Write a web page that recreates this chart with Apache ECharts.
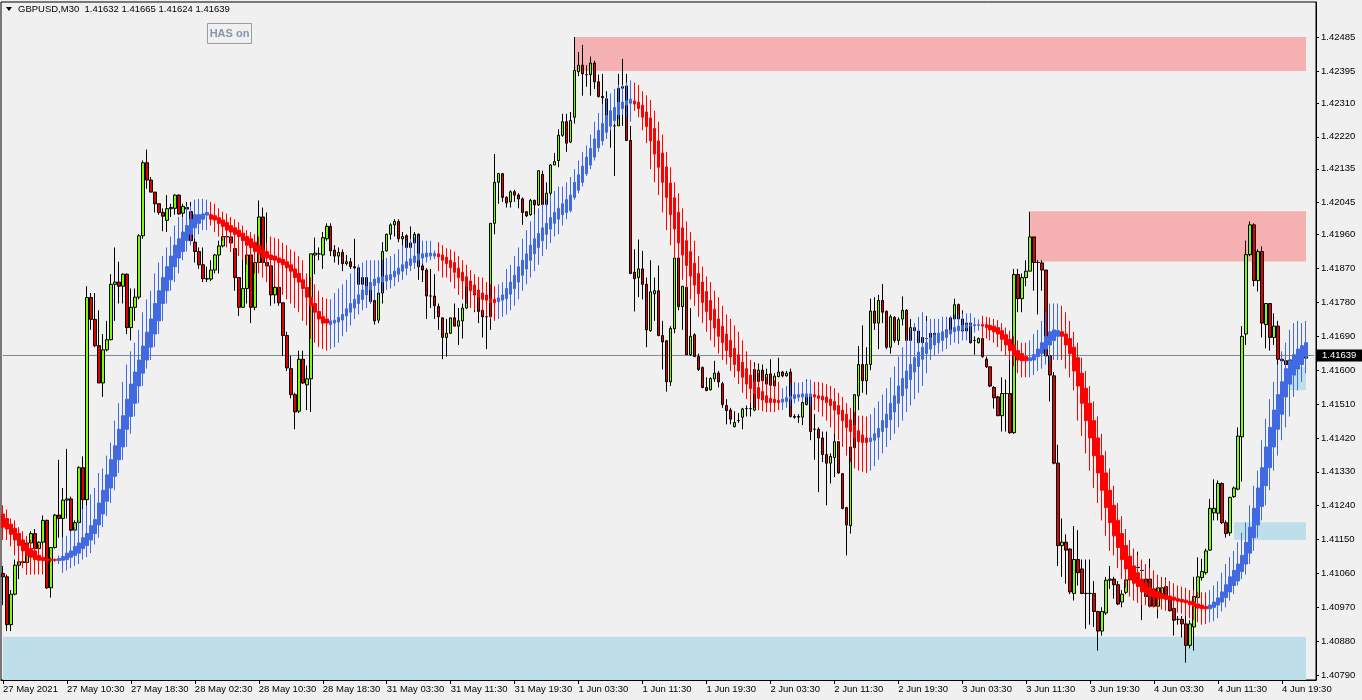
<!DOCTYPE html>
<html><head><meta charset="utf-8">
<script src="https://cdn.jsdelivr.net/npm/echarts@6/dist/echarts.min.js"></script>
<style>html,body{margin:0;padding:0;background:#f0f0f0;}#c{width:1362px;height:700px;}</style>
</head><body><div id="c"></div>
<script>
const symbolName = 'GBPUSD,M30';
const lastQuote = ['1.41632', '1.41665', '1.41624', '1.41639'];
const currentPrice = 1.41639;
const timeLabels = ['27 May 2021','27 May 10:30','27 May 18:30','28 May 02:30','28 May 10:30','28 May 18:30','31 May 03:30','31 May 11:30','31 May 19:30','1 Jun 03:30','1 Jun 11:30','1 Jun 19:30','2 Jun 03:30','2 Jun 11:30','2 Jun 19:30','3 Jun 03:30','3 Jun 11:30','3 Jun 19:30','4 Jun 03:30','4 Jun 11:30','4 Jun 19:30'];
const priceTicks = [1.42485,1.42395,1.42310,1.42220,1.42135,1.42045,1.41960,1.41870,1.41780,1.41690,1.41600,1.41510,1.41420,1.41330,1.41240,1.41150,1.41060,1.40970,1.40880,1.40790];
// zones: [fromBar, toBar, upperPrice, lowerPrice]
const supplyZones = [[143,326,1.42485,1.42395],[257,326,1.42022,1.41889]];
const demandZones = [[0,326,1.40892,1.40777],[308,326,1.41196,1.41149],[322,326,1.41609,1.41547]];

const barOpen = [
1.41060,1.41051,1.40924,1.41005,1.41082,1.41091,1.41089,1.41141,1.41166,1.41126,
1.41143,1.41201,1.41022,1.41129,1.41215,1.41206,1.41255,1.41258,1.41175,1.41195,
1.41341,1.41256,1.41793,1.41735,1.41665,1.41566,1.41654,1.41681,1.41828,1.41834,
1.41823,1.41855,1.41713,1.41767,1.41794,1.41957,1.42151,1.42105,1.42073,1.42042,
1.42019,1.41998,1.42029,1.42030,1.42065,1.42017,1.42032,1.42021,1.41940,1.41915,
1.41880,1.41843,1.41842,1.41866,1.41906,1.41930,1.41955,1.41954,1.41923,1.41846,
1.41767,1.41817,1.41906,1.41767,1.41886,1.42007,1.41886,1.41877,1.41800,1.41820,
1.41779,1.41692,1.41604,1.41535,1.41491,1.41629,1.41561,1.41577,1.41906,1.41909,
1.41906,1.41949,1.41982,1.41919,1.41903,1.41913,1.41883,1.41888,1.41875,1.41872,
1.41828,1.41846,1.41832,1.41785,1.41733,1.41805,1.41917,1.41961,1.41986,1.41995,
1.41949,1.41957,1.41926,1.41938,1.41961,1.41877,1.41866,1.41797,1.41797,1.41769,
1.41739,1.41687,1.41698,1.41739,1.41717,1.41731,1.41765,1.41834,1.41817,1.41800,
1.41759,1.41742,1.41742,1.41990,1.42099,1.42122,1.42059,1.42047,1.42074,1.42065,
1.42055,1.42021,1.42013,1.42051,1.42039,1.42120,1.42040,1.42070,1.42145,1.42157,
1.42224,1.42260,1.42206,1.42272,1.42393,1.42410,1.42385,1.42385,1.42416,1.42366,
1.42327,1.42321,1.42277,1.42249,1.42249,1.42349,1.42355,1.42210,1.41860,1.41846,
1.41869,1.41828,1.41705,1.41803,1.41811,1.41692,1.41678,1.41569,1.41710,1.41898,
1.41769,1.41820,1.41641,1.41694,1.41636,1.41607,1.41554,1.41548,1.41577,1.41592,
1.41564,1.41506,1.41494,1.41450,1.41466,1.41475,1.41498,1.41498,1.41494,1.41570,
1.41600,1.41563,1.41590,1.41558,1.41583,1.41595,1.41585,1.41595,1.41477,1.41475,
1.41475,1.41509,1.41532,1.41443,1.41443,1.41420,1.41376,1.41353,1.41368,1.41410,
1.41325,1.41235,1.41187,1.41394,1.41532,1.41615,1.41572,1.41615,1.41757,1.41725,
1.41785,1.41756,1.41661,1.41740,1.41679,1.41736,1.41759,1.41679,1.41713,1.41704,
1.41673,1.41684,1.41687,1.41698,1.41690,1.41696,1.41690,1.41707,1.41736,1.41774,
1.41736,1.41704,1.41725,1.41679,1.41673,1.41684,1.41629,1.41609,1.41554,1.41529,
1.41479,1.41538,1.41538,1.41434,1.41854,1.41790,1.41846,1.41863,1.41954,1.41886,
1.41885,1.41866,1.41638,1.41585,1.41353,1.41134,1.41143,1.41125,1.41007,1.41097,
1.41072,1.41007,1.41007,1.41007,1.40959,1.40907,1.40955,1.41042,1.41045,1.41030,
1.40984,1.41010,1.41043,1.41076,1.41076,1.41068,1.41045,1.41045,1.41019,1.40973,
1.41005,1.41025,1.40996,1.40967,1.40938,1.40938,1.40926,1.40869,1.40918,1.40996,
1.41049,1.41062,1.41122,1.41221,1.41220,1.41299,1.41195,1.41168,1.41264,1.41284,
1.41423,1.41696,1.41907,1.41986,1.41838,1.41915,1.41721,1.41777,1.41687,1.41717,
1.41629,1.41625,1.41615,1.41618,1.41604,1.41635,1.41632];
const barClose = [
1.41051,1.40924,1.41005,1.41082,1.41091,1.41089,1.41141,1.41166,1.41126,1.41143,
1.41201,1.41022,1.41129,1.41215,1.41206,1.41255,1.41258,1.41175,1.41195,1.41341,
1.41256,1.41793,1.41735,1.41665,1.41566,1.41654,1.41681,1.41828,1.41834,1.41823,
1.41855,1.41713,1.41767,1.41794,1.41957,1.42151,1.42105,1.42073,1.42042,1.42019,
1.42009,1.42029,1.42032,1.42065,1.42015,1.42035,1.42028,1.41944,1.41915,1.41880,
1.41843,1.41842,1.41866,1.41906,1.41930,1.41955,1.41954,1.41938,1.41846,1.41767,
1.41817,1.41906,1.41767,1.41886,1.42007,1.41886,1.41877,1.41800,1.41820,1.41779,
1.41692,1.41606,1.41535,1.41489,1.41629,1.41566,1.41577,1.41909,1.41911,1.41909,
1.41952,1.41982,1.41917,1.41903,1.41913,1.41883,1.41888,1.41875,1.41872,1.41828,
1.41846,1.41820,1.41782,1.41731,1.41805,1.41915,1.41961,1.41986,1.41995,1.41949,
1.41955,1.41926,1.41938,1.41961,1.41875,1.41866,1.41797,1.41797,1.41771,1.41742,
1.41687,1.41698,1.41739,1.41717,1.41731,1.41765,1.41834,1.41817,1.41800,1.41756,
1.41742,1.41742,1.41990,1.42099,1.42122,1.42059,1.42044,1.42074,1.42065,1.42055,
1.42019,1.42010,1.42051,1.42039,1.42130,1.42040,1.42070,1.42145,1.42154,1.42224,
1.42260,1.42203,1.42263,1.42396,1.42410,1.42387,1.42385,1.42416,1.42366,1.42327,
1.42324,1.42277,1.42249,1.42249,1.42349,1.42353,1.42210,1.41857,1.41843,1.41869,
1.41828,1.41707,1.41808,1.41811,1.41692,1.41675,1.41569,1.41711,1.41898,1.41769,
1.41823,1.41641,1.41690,1.41636,1.41602,1.41554,1.41546,1.41578,1.41592,1.41569,
1.41509,1.41493,1.41470,1.41461,1.41466,1.41497,1.41498,1.41498,1.41602,1.41600,
1.41572,1.41589,1.41560,1.41584,1.41595,1.41585,1.41592,1.41477,1.41475,1.41477,
1.41514,1.41535,1.41437,1.41443,1.41420,1.41376,1.41353,1.41371,1.41410,1.41327,
1.41233,1.41189,1.41396,1.41535,1.41615,1.41572,1.41615,1.41757,1.41725,1.41785,
1.41754,1.41661,1.41742,1.41679,1.41734,1.41759,1.41679,1.41713,1.41705,1.41673,
1.41687,1.41684,1.41698,1.41690,1.41696,1.41690,1.41707,1.41739,1.41774,1.41736,
1.41704,1.41725,1.41673,1.41679,1.41684,1.41636,1.41609,1.41558,1.41527,1.41479,
1.41538,1.41538,1.41434,1.41854,1.41790,1.41846,1.41863,1.41954,1.41886,1.41886,
1.41866,1.41638,1.41587,1.41353,1.41134,1.41143,1.41122,1.41011,1.41097,1.41062,
1.41007,1.41007,1.41007,1.40959,1.40907,1.40959,1.41042,1.41045,1.41030,1.40979,
1.41005,1.41043,1.41074,1.41076,1.41076,1.41068,1.40999,1.40973,1.40973,1.41022,
1.41022,1.40996,1.40961,1.40936,1.40938,1.40926,1.40869,1.40926,1.40999,1.41051,
1.41065,1.41120,1.41233,1.41233,1.41299,1.41195,1.41166,1.41262,1.41287,1.41425,
1.41690,1.41907,1.41986,1.41838,1.41915,1.41725,1.41777,1.41687,1.41717,1.41629,
1.41625,1.41615,1.41627,1.41604,1.41635,1.41633,1.41639];
const barLow = [
1.40976,1.40907,1.40907,1.41002,1.41045,1.41085,1.41057,1.41120,1.41062,1.41120,
1.41126,1.41019,1.40996,1.41126,1.41155,1.41155,1.41206,1.41155,1.41172,1.41191,
1.41230,1.41230,1.41707,1.41661,1.41566,1.41529,1.41650,1.41679,1.41731,1.41777,
1.41777,1.41696,1.41679,1.41731,1.41788,1.41949,1.42082,1.42073,1.42019,1.42013,
1.41969,1.41967,1.42007,1.42013,1.42013,1.42007,1.42013,1.41932,1.41886,1.41869,
1.41834,1.41834,1.41837,1.41857,1.41857,1.41926,1.41938,1.41915,1.41811,1.41744,
1.41767,1.41777,1.41725,1.41759,1.41886,1.41875,1.41846,1.41771,1.41777,1.41771,
1.41638,1.41598,1.41525,1.41443,1.41486,1.41563,1.41494,1.41489,1.41855,1.41892,
1.41869,1.41944,1.41903,1.41886,1.41880,1.41863,1.41878,1.41869,1.41846,1.41788,
1.41800,1.41817,1.41777,1.41721,1.41725,1.41777,1.41915,1.41947,1.41955,1.41940,
1.41926,1.41921,1.41924,1.41932,1.41840,1.41834,1.41736,1.41765,1.41736,1.41707,
1.41629,1.41636,1.41696,1.41717,1.41667,1.41684,1.41763,1.41777,1.41754,1.41725,
1.41687,1.41656,1.41707,1.41961,1.42042,1.42047,1.42032,1.42032,1.42047,1.42030,
1.41986,1.42007,1.42010,1.42013,1.42036,1.42039,1.42036,1.42042,1.42145,1.42139,
1.42220,1.42180,1.42203,1.42255,1.42381,1.42329,1.42353,1.42329,1.42347,1.42324,
1.42283,1.42237,1.42191,1.42116,1.42249,1.42249,1.42209,1.41855,1.41756,1.41794,
1.41788,1.41661,1.41702,1.41731,1.41690,1.41602,1.41543,1.41558,1.41698,1.41759,
1.41707,1.41641,1.41638,1.41636,1.41598,1.41552,1.41544,1.41546,1.41569,1.41554,
1.41500,1.41456,1.41456,1.41448,1.41460,1.41443,1.41477,1.41477,1.41491,1.41494,
1.41506,1.41506,1.41512,1.41552,1.41581,1.41581,1.41583,1.41474,1.41471,1.41460,
1.41454,1.41506,1.41414,1.41362,1.41276,1.41356,1.41241,1.41299,1.41316,1.41325,
1.41230,1.41108,1.41166,1.41394,1.41494,1.41540,1.41535,1.41600,1.41707,1.41656,
1.41725,1.41656,1.41644,1.41673,1.41667,1.41719,1.41673,1.41673,1.41684,1.41661,
1.41667,1.41650,1.41661,1.41673,1.41673,1.41679,1.41684,1.41702,1.41733,1.41671,
1.41702,1.41698,1.41671,1.41641,1.41671,1.41633,1.41606,1.41555,1.41498,1.41479,
1.41437,1.41437,1.41431,1.41431,1.41754,1.41754,1.41823,1.41863,1.41811,1.41748,
1.41811,1.41638,1.41517,1.41350,1.41080,1.41051,1.41033,1.41005,1.40988,1.41028,
1.41005,1.40913,1.40924,1.40918,1.40855,1.40895,1.40950,1.41019,1.40993,1.40976,
1.40970,1.41005,1.41016,1.41010,1.41051,1.40936,1.40976,1.40970,1.40970,1.40941,
1.40999,1.40993,1.40959,1.40895,1.40924,1.40890,1.40823,1.40861,1.40855,1.40993,
1.41041,1.41057,1.41120,1.41201,1.41201,1.41191,1.41155,1.41160,1.41261,1.41281,
1.41304,1.41667,1.41903,1.41823,1.41809,1.41687,1.41658,1.41652,1.41667,1.41613,
1.41610,1.41602,1.41595,1.41602,1.41602,1.41627,1.41624];
const barHigh = [
1.41080,1.41057,1.41016,1.41097,1.41097,1.41097,1.41155,1.41172,1.41178,1.41145,
1.41214,1.41203,1.41129,1.41218,1.41362,1.41287,1.41391,1.41264,1.41201,1.41345,
1.41371,1.41823,1.41805,1.41805,1.41759,1.41696,1.41731,1.41855,1.41926,1.41888,
1.41857,1.41857,1.41817,1.41817,1.41961,1.42157,1.42186,1.42113,1.42073,1.42042,
1.42030,1.42065,1.42042,1.42067,1.42067,1.42042,1.42047,1.42047,1.41952,1.41926,
1.41926,1.41875,1.41892,1.41909,1.41944,1.41961,1.41961,1.41955,1.41923,1.41846,
1.41906,1.41906,1.41906,1.41903,1.42051,1.42032,1.42019,1.41877,1.41840,1.41828,
1.41779,1.41702,1.41638,1.41540,1.41652,1.41652,1.41612,1.41909,1.41952,1.41926,
1.41967,1.41990,1.41990,1.41932,1.41926,1.41921,1.41906,1.41898,1.41949,1.41880,
1.41860,1.41854,1.41840,1.41788,1.41817,1.41940,1.41963,1.41990,1.42001,1.42001,
1.41967,1.41961,1.41982,1.41967,1.41963,1.41892,1.41871,1.41869,1.41855,1.41777,
1.41739,1.41736,1.41739,1.41777,1.41765,1.41777,1.41857,1.41846,1.41834,1.41834,
1.41800,1.41742,1.41990,1.42174,1.42124,1.42124,1.42062,1.42078,1.42079,1.42070,
1.42059,1.42021,1.42055,1.42053,1.42130,1.42130,1.42099,1.42148,1.42177,1.42240,
1.42281,1.42281,1.42286,1.42485,1.42445,1.42464,1.42410,1.42433,1.42422,1.42385,
1.42387,1.42341,1.42324,1.42255,1.42387,1.42427,1.42387,1.42249,1.41921,1.41947,
1.41917,1.41846,1.41892,1.41846,1.41878,1.41731,1.41679,1.41717,1.41898,1.41898,
1.41823,1.41820,1.41765,1.41698,1.41644,1.41610,1.41581,1.41581,1.41625,1.41598,
1.41569,1.41523,1.41500,1.41491,1.41486,1.41500,1.41506,1.41535,1.41621,1.41618,
1.41615,1.41604,1.41629,1.41592,1.41633,1.41598,1.41598,1.41604,1.41483,1.41483,
1.41517,1.41575,1.41535,1.41483,1.41448,1.41437,1.41437,1.41379,1.41448,1.41410,
1.41327,1.41237,1.41396,1.41535,1.41664,1.41719,1.41661,1.41790,1.41794,1.41800,
1.41829,1.41759,1.41748,1.41744,1.41740,1.41796,1.41762,1.41736,1.41717,1.41717,
1.41690,1.41744,1.41707,1.41702,1.41702,1.41702,1.41713,1.41744,1.41790,1.41777,
1.41759,1.41731,1.41725,1.41690,1.41687,1.41687,1.41636,1.41609,1.41558,1.41532,
1.41581,1.41575,1.41627,1.41869,1.41869,1.41857,1.41892,1.42021,1.41954,1.41892,
1.41892,1.41866,1.41638,1.41595,1.41402,1.41206,1.41164,1.41126,1.41186,1.41175,
1.41097,1.41097,1.41097,1.41040,1.40961,1.40970,1.41051,1.41080,1.41051,1.41040,
1.41016,1.41074,1.41097,1.41097,1.41118,1.41074,1.41045,1.41099,1.41045,1.41051,
1.41033,1.41049,1.40996,1.40970,1.40947,1.40947,1.40947,1.40936,1.41051,1.41103,
1.41099,1.41126,1.41258,1.41310,1.41307,1.41302,1.41201,1.41264,1.41291,1.41448,
1.41717,1.41944,1.41995,1.41990,1.41921,1.41929,1.41777,1.41777,1.41751,1.41731,
1.41644,1.41629,1.41629,1.41629,1.41648,1.41644,1.41665];

const hasOpen = [
1.41218,1.41206,1.41191,1.41180,1.41166,1.41149,1.41137,1.41126,1.41120,1.41108,
1.41103,1.41099,1.41098,1.41097,1.41094,1.41095,1.41097,1.41103,1.41108,1.41114,
1.41126,1.41134,1.41149,1.41166,1.41189,1.41218,1.41252,1.41287,1.41318,1.41362,
1.41396,1.41443,1.41477,1.41512,1.41558,1.41592,1.41627,1.41661,1.41696,1.41731,
1.41777,1.41811,1.41840,1.41875,1.41898,1.41915,1.41944,1.41961,1.41978,1.41990,
1.42001,1.42012,1.42013,1.42010,1.42005,1.41999,1.41992,1.41984,1.41978,1.41972,
1.41964,1.41955,1.41949,1.41940,1.41932,1.41921,1.41915,1.41906,1.41903,1.41898,
1.41894,1.41888,1.41880,1.41869,1.41857,1.41840,1.41820,1.41794,1.41777,1.41756,
1.41742,1.41736,1.41721,1.41725,1.41728,1.41733,1.41744,1.41754,1.41765,1.41777,
1.41788,1.41800,1.41813,1.41825,1.41832,1.41834,1.41837,1.41840,1.41848,1.41855,
1.41863,1.41871,1.41878,1.41886,1.41892,1.41898,1.41901,1.41903,1.41903,1.41909,
1.41906,1.41900,1.41892,1.41886,1.41871,1.41860,1.41848,1.41837,1.41826,1.41813,
1.41805,1.41800,1.41790,1.41788,1.41782,1.41786,1.41790,1.41802,1.41817,1.41834,
1.41852,1.41869,1.41892,1.41909,1.41926,1.41944,1.41961,1.41975,1.41990,1.42001,
1.42013,1.42019,1.42024,1.42059,1.42078,1.42099,1.42122,1.42145,1.42166,1.42191,
1.42209,1.42232,1.42249,1.42263,1.42278,1.42295,1.42304,1.42309,1.42315,1.42312,
1.42304,1.42286,1.42270,1.42242,1.42209,1.42177,1.42140,1.42097,1.42058,1.42019,
1.41978,1.41944,1.41915,1.41884,1.41857,1.41834,1.41809,1.41785,1.41762,1.41736,
1.41717,1.41696,1.41679,1.41658,1.41641,1.41621,1.41604,1.41587,1.41569,1.41554,
1.41543,1.41532,1.41525,1.41523,1.41520,1.41515,1.41517,1.41523,1.41525,1.41528,
1.41529,1.41529,1.41530,1.41535,1.41532,1.41531,1.41529,1.41523,1.41517,1.41506,
1.41494,1.41483,1.41468,1.41454,1.41439,1.41428,1.41420,1.41410,1.41414,1.41422,
1.41437,1.41448,1.41468,1.41489,1.41512,1.41532,1.41552,1.41575,1.41595,1.41610,
1.41629,1.41644,1.41656,1.41667,1.41673,1.41679,1.41687,1.41696,1.41702,1.41705,
1.41707,1.41712,1.41717,1.41718,1.41719,1.41721,1.41721,1.41719,1.41717,1.41713,
1.41705,1.41694,1.41682,1.41667,1.41652,1.41644,1.41636,1.41625,1.41627,1.41636,
1.41644,1.41656,1.41667,1.41679,1.41690,1.41702,1.41696,1.41684,1.41661,1.41633,
1.41592,1.41552,1.41512,1.41466,1.41420,1.41373,1.41327,1.41281,1.41241,1.41201,
1.41166,1.41134,1.41106,1.41080,1.41062,1.41045,1.41034,1.41022,1.41016,1.41011,
1.41007,1.41002,1.41000,1.40997,1.40993,1.40991,1.40989,1.40986,1.40984,1.40979,
1.40976,1.40972,1.40966,1.40970,1.40976,1.40984,1.40996,1.41011,1.41028,1.41040,
1.41065,1.41085,1.41114,1.41155,1.41189,1.41238,1.41293,1.41341,1.41396,1.41443,
1.41483,1.41529,1.41563,1.41587,1.41604,1.41615,1.41636];
const hasClose = [
1.41183,1.41178,1.41164,1.41149,1.41134,1.41120,1.41108,1.41103,1.41097,1.41095,
1.41094,1.41094,1.41095,1.41095,1.41100,1.41105,1.41114,1.41120,1.41132,1.41141,
1.41155,1.41166,1.41187,1.41203,1.41247,1.41281,1.41322,1.41362,1.41399,1.41443,
1.41479,1.41523,1.41563,1.41595,1.41627,1.41664,1.41701,1.41736,1.41777,1.41811,
1.41846,1.41875,1.41903,1.41932,1.41949,1.41967,1.41984,1.42001,1.42013,1.42013,
1.42015,1.42019,1.42001,1.41999,1.41990,1.41982,1.41972,1.41967,1.41961,1.41955,
1.41944,1.41932,1.41926,1.41915,1.41909,1.41898,1.41898,1.41894,1.41892,1.41886,
1.41880,1.41872,1.41863,1.41846,1.41834,1.41817,1.41794,1.41771,1.41754,1.41736,
1.41725,1.41725,1.41731,1.41733,1.41740,1.41748,1.41763,1.41777,1.41788,1.41800,
1.41813,1.41823,1.41832,1.41842,1.41846,1.41848,1.41852,1.41854,1.41863,1.41871,
1.41880,1.41888,1.41896,1.41903,1.41909,1.41909,1.41911,1.41911,1.41910,1.41901,
1.41892,1.41883,1.41872,1.41860,1.41846,1.41837,1.41823,1.41811,1.41803,1.41794,
1.41788,1.41786,1.41779,1.41779,1.41792,1.41800,1.41817,1.41834,1.41852,1.41875,
1.41892,1.41909,1.41932,1.41949,1.41963,1.41978,1.41990,1.42005,1.42019,1.42030,
1.42042,1.42053,1.42065,1.42099,1.42119,1.42142,1.42166,1.42189,1.42214,1.42237,
1.42255,1.42275,1.42289,1.42298,1.42312,1.42312,1.42316,1.42320,1.42307,1.42295,
1.42272,1.42247,1.42209,1.42174,1.42139,1.42099,1.42059,1.42013,1.41975,1.41938,
1.41906,1.41878,1.41850,1.41826,1.41803,1.41780,1.41756,1.41733,1.41712,1.41690,
1.41673,1.41652,1.41635,1.41615,1.41598,1.41581,1.41563,1.41551,1.41537,1.41525,
1.41521,1.41514,1.41514,1.41514,1.41514,1.41523,1.41527,1.41530,1.41535,1.41535,
1.41537,1.41537,1.41537,1.41529,1.41525,1.41521,1.41514,1.41506,1.41494,1.41483,
1.41466,1.41448,1.41437,1.41420,1.41410,1.41408,1.41408,1.41420,1.41431,1.41445,
1.41466,1.41483,1.41512,1.41532,1.41558,1.41578,1.41598,1.41615,1.41633,1.41648,
1.41661,1.41673,1.41684,1.41694,1.41698,1.41702,1.41705,1.41707,1.41713,1.41717,
1.41719,1.41721,1.41721,1.41721,1.41721,1.41717,1.41713,1.41707,1.41702,1.41696,
1.41682,1.41667,1.41652,1.41638,1.41627,1.41625,1.41625,1.41633,1.41641,1.41656,
1.41673,1.41690,1.41702,1.41707,1.41705,1.41690,1.41667,1.41644,1.41598,1.41558,
1.41512,1.41466,1.41420,1.41373,1.41327,1.41281,1.41235,1.41195,1.41160,1.41129,
1.41097,1.41072,1.41045,1.41034,1.41025,1.41011,1.41007,1.40999,1.40996,1.40993,
1.40993,1.40991,1.40990,1.40989,1.40986,1.40984,1.40982,1.40977,1.40972,1.40968,
1.40966,1.40966,1.40976,1.40984,1.40995,1.41011,1.41030,1.41051,1.41068,1.41085,
1.41108,1.41143,1.41183,1.41233,1.41287,1.41341,1.41396,1.41448,1.41494,1.41535,
1.41569,1.41604,1.41625,1.41641,1.41656,1.41665,1.41673];
const hasLow = [
1.41149,1.41149,1.41132,1.41108,1.41085,1.41074,1.41057,1.41057,1.41057,1.41057,
1.41057,1.41089,1.41090,1.41091,1.41085,1.41062,1.41068,1.41074,1.41080,1.41085,
1.41097,1.41103,1.41114,1.41137,1.41155,1.41183,1.41212,1.41247,1.41281,1.41327,
1.41362,1.41396,1.41431,1.41477,1.41512,1.41558,1.41604,1.41627,1.41661,1.41696,
1.41731,1.41777,1.41811,1.41834,1.41857,1.41892,1.41915,1.41932,1.41949,1.41961,
1.41972,1.41972,1.41984,1.41967,1.41955,1.41944,1.41926,1.41915,1.41915,1.41903,
1.41892,1.41880,1.41869,1.41857,1.41857,1.41846,1.41834,1.41823,1.41823,1.41811,
1.41800,1.41788,1.41777,1.41765,1.41754,1.41731,1.41719,1.41684,1.41673,1.41661,
1.41656,1.41652,1.41656,1.41661,1.41673,1.41690,1.41702,1.41719,1.41736,1.41748,
1.41759,1.41765,1.41777,1.41788,1.41800,1.41809,1.41813,1.41817,1.41823,1.41834,
1.41840,1.41852,1.41863,1.41869,1.41875,1.41883,1.41886,1.41892,1.41895,1.41863,
1.41846,1.41846,1.41834,1.41817,1.41800,1.41788,1.41777,1.41765,1.41759,1.41756,
1.41748,1.41742,1.41736,1.41731,1.41736,1.41742,1.41748,1.41759,1.41771,1.41788,
1.41811,1.41828,1.41846,1.41863,1.41880,1.41903,1.41921,1.41938,1.41955,1.41961,
1.41984,1.42001,1.42019,1.42053,1.42070,1.42088,1.42116,1.42134,1.42157,1.42180,
1.42197,1.42214,1.42237,1.42255,1.42266,1.42278,1.42272,1.42260,1.42289,1.42272,
1.42237,1.42203,1.42134,1.42099,1.42065,1.42019,1.41972,1.41932,1.41898,1.41869,
1.41840,1.41817,1.41788,1.41771,1.41742,1.41725,1.41702,1.41679,1.41661,1.41644,
1.41627,1.41615,1.41598,1.41581,1.41563,1.41540,1.41523,1.41512,1.41500,1.41494,
1.41491,1.41489,1.41489,1.41489,1.41494,1.41494,1.41500,1.41506,1.41512,1.41517,
1.41517,1.41512,1.41506,1.41494,1.41489,1.41477,1.41466,1.41448,1.41431,1.41414,
1.41396,1.41373,1.41356,1.41339,1.41333,1.41330,1.41327,1.41333,1.41345,1.41362,
1.41379,1.41396,1.41414,1.41431,1.41448,1.41466,1.41489,1.41506,1.41523,1.41540,
1.41558,1.41592,1.41627,1.41638,1.41644,1.41650,1.41656,1.41667,1.41673,1.41673,
1.41679,1.41679,1.41679,1.41700,1.41705,1.41684,1.41684,1.41679,1.41673,1.41661,
1.41650,1.41638,1.41627,1.41610,1.41592,1.41581,1.41581,1.41581,1.41587,1.41598,
1.41604,1.41615,1.41621,1.41627,1.41627,1.41627,1.41604,1.41581,1.41546,1.41466,
1.41425,1.41379,1.41333,1.41287,1.41247,1.41201,1.41160,1.41120,1.41108,1.41074,
1.41045,1.41022,1.40999,1.40988,1.40982,1.40976,1.40976,1.40970,1.40970,1.40964,
1.40964,1.40961,1.40961,1.40959,1.40956,1.40953,1.40947,1.40941,1.40936,1.40930,
1.40924,1.40926,1.40930,1.40933,1.40941,1.40959,1.40970,1.40988,1.41005,1.41028,
1.41045,1.41057,1.41085,1.41120,1.41155,1.41201,1.41241,1.41281,1.41333,1.41373,
1.41414,1.41448,1.41477,1.41529,1.41546,1.41569,1.41592];
const hasHigh = [
1.41241,1.41230,1.41206,1.41201,1.41183,1.41172,1.41160,1.41149,1.41143,1.41137,
1.41137,1.41103,1.41102,1.41100,1.41108,1.41155,1.41160,1.41172,1.41183,1.41201,
1.41230,1.41241,1.41270,1.41287,1.41327,1.41339,1.41373,1.41408,1.41466,1.41512,
1.41569,1.41615,1.41650,1.41673,1.41707,1.41754,1.41788,1.41811,1.41857,1.41886,
1.41903,1.41926,1.41955,1.41984,1.42007,1.42007,1.42036,1.42036,1.42053,1.42055,
1.42055,1.42053,1.42047,1.42042,1.42030,1.42021,1.42016,1.42007,1.42001,1.41993,
1.41984,1.41972,1.41967,1.41961,1.41955,1.41947,1.41938,1.41955,1.41952,1.41949,
1.41938,1.41932,1.41921,1.41915,1.41903,1.41892,1.41857,1.41846,1.41828,1.41811,
1.41794,1.41790,1.41788,1.41805,1.41817,1.41828,1.41840,1.41857,1.41869,1.41880,
1.41886,1.41892,1.41892,1.41892,1.41892,1.41894,1.41898,1.41903,1.41909,1.41921,
1.41932,1.41944,1.41949,1.41952,1.41955,1.41944,1.41944,1.41944,1.41918,1.41940,
1.41932,1.41924,1.41921,1.41915,1.41903,1.41892,1.41880,1.41866,1.41855,1.41848,
1.41846,1.41834,1.41828,1.41823,1.41828,1.41834,1.41869,1.41880,1.41903,1.41926,
1.41949,1.41972,1.41995,1.42013,1.42030,1.42042,1.42053,1.42065,1.42076,1.42088,
1.42088,1.42099,1.42113,1.42134,1.42157,1.42180,1.42197,1.42226,1.42260,1.42283,
1.42307,1.42324,1.42335,1.42347,1.42358,1.42358,1.42364,1.42370,1.42364,1.42358,
1.42341,1.42330,1.42318,1.42289,1.42260,1.42226,1.42180,1.42139,1.42099,1.42070,
1.42030,1.41995,1.41967,1.41944,1.41903,1.41875,1.41849,1.41834,1.41811,1.41794,
1.41771,1.41748,1.41736,1.41719,1.41702,1.41679,1.41650,1.41627,1.41610,1.41592,
1.41587,1.41581,1.41575,1.41572,1.41569,1.41552,1.41558,1.41563,1.41569,1.41567,
1.41569,1.41572,1.41575,1.41569,1.41569,1.41567,1.41563,1.41558,1.41552,1.41540,
1.41529,1.41512,1.41500,1.41489,1.41479,1.41479,1.41477,1.41483,1.41500,1.41517,
1.41535,1.41552,1.41581,1.41610,1.41636,1.41661,1.41684,1.41707,1.41725,1.41742,
1.41754,1.41731,1.41736,1.41736,1.41736,1.41742,1.41742,1.41744,1.41748,1.41748,
1.41750,1.41751,1.41751,1.41740,1.41735,1.41744,1.41742,1.41740,1.41736,1.41733,
1.41725,1.41713,1.41705,1.41690,1.41679,1.41673,1.41673,1.41679,1.41696,1.41707,
1.41731,1.41754,1.41777,1.41777,1.41777,1.41771,1.41754,1.41731,1.41702,1.41673,
1.41633,1.41598,1.41558,1.41517,1.41477,1.41431,1.41385,1.41339,1.41293,1.41247,
1.41212,1.41178,1.41149,1.41126,1.41108,1.41097,1.41085,1.41074,1.41068,1.41057,
1.41051,1.41045,1.41040,1.41034,1.41028,1.41025,1.41022,1.41016,1.41016,1.41010,
1.41010,1.41010,1.41016,1.41028,1.41039,1.41062,1.41085,1.41103,1.41120,1.41143,
1.41168,1.41195,1.41241,1.41293,1.41333,1.41414,1.41471,1.41523,1.41569,1.41615,
1.41650,1.41673,1.41707,1.41725,1.41731,1.41725,1.41731];

const BAR_SLOTS = barOpen.length + 2; // chart shift: two empty slots on the right
const categories = Array.from({length: BAR_SLOTS}, (_, i) => String(i));
const candleData = barOpen.map((o, i) => [o, barClose[i], barLow[i], barHigh[i]]);
const hasData = hasOpen.map((o, i) => [o, hasClose[i], hasLow[i], hasHigh[i]]);
const priceLineData = [[categories[0], currentPrice], [categories[BAR_SLOTS - 1], currentPrice]];

const FONT = '"Liberation Sans", Arial, sans-serif';
const zoneAreas = [];
supplyZones.forEach(z => zoneAreas.push([{xAxis: String(z[0]), yAxis: z[2], itemStyle: {color: '#F5B1B2'}}, {xAxis: String(z[1]), yAxis: z[3]}]));
demandZones.forEach(z => zoneAreas.push([{xAxis: String(z[0]), yAxis: z[2], itemStyle: {color: '#BEDFE9'}}, {xAxis: String(z[1]), yAxis: z[3]}]));

const chart = echarts.init(document.getElementById('c'), null, {renderer: 'canvas'});
chart.setOption({
  animation: false,
  backgroundColor: '#F0F0F0',
  grid: {left: 1, right: 46, top: 2, bottom: 20, show: true, backgroundColor: '#F0F0F0',
         borderColor: '#000', borderWidth: 1, containLabel: false, outerBoundsMode: 'none'},
  xAxis: {
    type: 'category', data: categories, boundaryGap: true,
    axisLine: {show: true, lineStyle: {color: '#000', width: 1}},
    axisTick: {show: true, interval: 15, alignWithLabel: true, length: 4, lineStyle: {color: '#000'}},
    axisLabel: {show: true, interval: 15, align: 'left', margin: 4, color: '#000', fontSize: 9.5, fontFamily: FONT,
      formatter: (v, idx) => (idx % 16 === 0 && timeLabels[idx / 16]) ? timeLabels[idx / 16] : ''},
    splitLine: {show: false}
  },
  yAxis: {
    type: 'value', position: 'right', min: 1.40777, max: 1.42578, scale: true,
    axisLine: {show: true, lineStyle: {color: '#000', width: 1}},
    axisTick: {show: true, length: 3, customValues: priceTicks, lineStyle: {color: '#000'}},
    axisLabel: {show: true, customValues: priceTicks, margin: 5, color: '#000', fontSize: 9.5, fontFamily: FONT,
      formatter: v => v.toFixed(5)},
    splitLine: {show: false}
  },
  series: [
    {
      type: 'line', name: 'zones', data: [], z: 1, silent: true,
      markArea: {silent: true, label: {show: false}, data: zoneAreas}
    },
    {
      type: 'line', name: 'price', data: priceLineData, z: 2, silent: true,
      showSymbol: false, symbol: 'none', clip: false,
      lineStyle: {color: '#7D8893', width: 1},
      endLabel: {show: true, distance: 3, formatter: () => currentPrice.toFixed(5),
                 color: '#fff', backgroundColor: '#000', padding: [1, 6, 1, 5], fontSize: 9.5, fontFamily: FONT}
    },
    {
      type: 'candlestick', name: symbolName, data: candleData, z: 3, barWidth: 3, silent: true,
      itemStyle: {color: '#7CFC00', color0: '#E00000', borderColor: '#000', borderColor0: '#000',
                  borderColorDoji: '#000', borderWidth: 1}
    },
    {
      type: 'candlestick', name: 'HAS', data: hasData, z: 4, barWidth: 3, silent: true,
      itemStyle: {color: '#4169E1', color0: '#FF0000', borderColor: '#4169E1', borderColor0: '#FF0000',
                  borderColorDoji: '#4169E1', borderWidth: 1}
    }
  ],
  graphic: [
    {type: 'polygon', shape: {points: [[6, 7], [12, 7], [9, 11]]}, style: {fill: '#000'}, z: 10},
    {type: 'text', x: 18, y: 9, z: 10,
     style: {text: symbolName + '  ' + lastQuote.join(' '), font: '9.5px ' + FONT, fill: '#000', verticalAlign: 'middle'}},
    {type: 'rect', shape: {x: 207.5, y: 23.5, width: 44, height: 20}, z: 10,
     style: {fill: '#F0F0F0', stroke: '#9C9C9C', lineWidth: 1}},
    {type: 'text', x: 229.5, y: 33.5, z: 11,
     style: {text: 'HAS on', font: 'bold 11px "Liberation Sans Narrow", ' + FONT, fill: '#8797A9',
             align: 'center', verticalAlign: 'middle'}}
  ]
});
</script>
</body></html>
